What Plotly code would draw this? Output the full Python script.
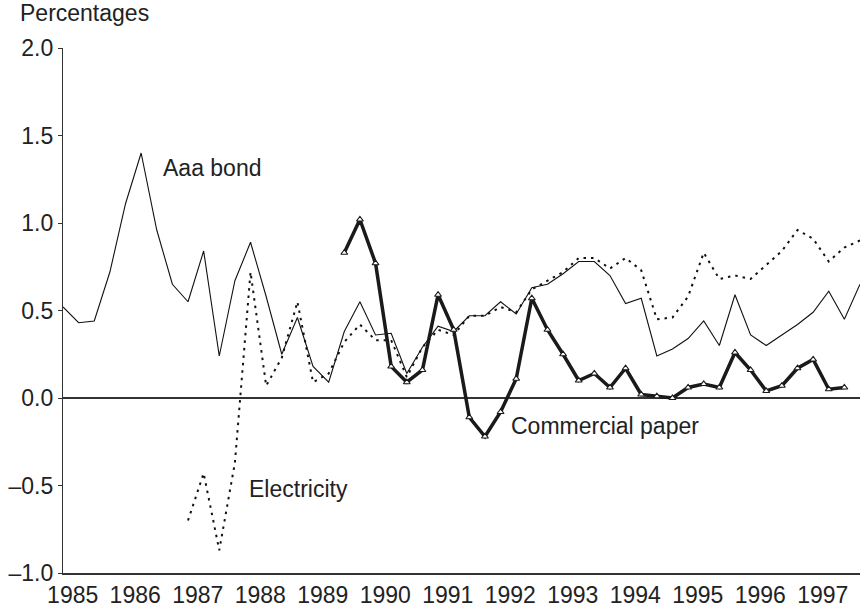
import plotly.graph_objects as go

# Quarterly series, 1985Q1 onward (index 0 = 1985Q1)
aaa_bond = [0.52, 0.43, 0.44, 0.72, 1.11, 1.40, 0.96, 0.65, 0.55, 0.84,
            0.24, 0.67, 0.89, 0.58, 0.25, 0.46, 0.18, 0.09, 0.38, 0.55,
            0.36, 0.37, 0.14, 0.29, 0.41, 0.38, 0.47, 0.47, 0.55, 0.48,
            0.63, 0.65, 0.71, 0.78, 0.78, 0.70, 0.54, 0.57, 0.24, 0.28,
            0.34, 0.44, 0.30, 0.59, 0.36, 0.30, 0.36, 0.42, 0.49, 0.61,
            0.45, 0.65]
aaa_start = 0

electricity = [-0.70, -0.43, -0.87, -0.37, 0.72, 0.07, 0.23, 0.55, 0.09, 0.14,
               0.32, 0.42, 0.33, 0.33, 0.12, 0.29, 0.39, 0.36, 0.47, 0.47,
               0.52, 0.49, 0.62, 0.67, 0.72, 0.80, 0.80, 0.74, 0.80, 0.73,
               0.45, 0.46, 0.58, 0.83, 0.68, 0.70, 0.68, 0.76, 0.84, 0.96,
               0.91, 0.78, 0.86, 0.90]
electricity_start = 8

commercial_paper = [0.83, 1.02, 0.77, 0.18, 0.09, 0.16, 0.59, 0.39, -0.11, -0.22,
                    -0.08, 0.11, 0.57, 0.39, 0.25, 0.10, 0.14, 0.06, 0.17, 0.02,
                    0.01, 0.00, 0.06, 0.08, 0.06, 0.26, 0.16, 0.04, 0.07, 0.17,
                    0.22, 0.05, 0.06]
cp_start = 18

years = list(range(1985, 1998))
y_ticks = [-1.0, -0.5, 0.0, 0.5, 1.0, 1.5, 2.0]
y_tick_text = ["\u20131.0", "\u20130.5", "0.0", "0.5", "1.0", "1.5", "2.0"]

FONT = "Liberation Sans, Arial, Helvetica, sans-serif"
INK = "#222222"


def quarters(start, values):
    return [start + i for i in range(len(values))]


fig = go.Figure()

fig.add_trace(go.Scatter(
    x=quarters(aaa_start, aaa_bond), y=aaa_bond, mode="lines",
    line=dict(color="#111111", width=1.1), cliponaxis=False,
    name="Aaa bond"))

fig.add_trace(go.Scatter(
    x=quarters(electricity_start, electricity), y=electricity, mode="lines",
    line=dict(color="#111111", width=2, dash="2.5px,5px"), cliponaxis=False,
    name="Electricity"))

fig.add_trace(go.Scatter(
    x=quarters(cp_start, commercial_paper), y=commercial_paper,
    mode="lines+markers",
    line=dict(color="#1a1a1a", width=3.5),
    marker=dict(symbol="triangle-up", size=6, color="white",
                line=dict(color="#1a1a1a", width=1.2)),
    name="Commercial paper"))

# zero reference line
fig.add_shape(type="line", xref="paper", yref="y", x0=0, x1=1, y0=0, y1=0,
              line=dict(color="#333333", width=2), layer="below")

# year labels sit slightly right of each year's first quarter
year_pos = [(y - 1985) * 4 + 0.62 for y in years]

fig.update_layout(
    width=860, height=609,
    margin=dict(l=63, r=0, t=48, b=36, pad=0),
    paper_bgcolor="white", plot_bgcolor="white",
    showlegend=False,
    font=dict(family=FONT, size=23, color=INK),
    xaxis=dict(range=[0, 51], showgrid=False, zeroline=False,
               showline=True, linecolor="#333333", linewidth=2,
               tickvals=year_pos, ticktext=[str(y) for y in years],
               ticks="", tickfont=dict(size=23, color=INK)),
    yaxis=dict(range=[-1, 2], showgrid=False, zeroline=False,
               showline=True, linecolor="#333333", linewidth=1.3,
               tickvals=y_ticks, ticktext=y_tick_text,
               ticks="outside", ticklen=4, tickwidth=1.2, tickcolor="#333333",
               tickfont=dict(size=23, color=INK)),
    annotations=[
        dict(text="Percentages", xref="paper", yref="paper",
             x=-0.0565, y=1.0667, xanchor="left", yanchor="middle",
             showarrow=False, font=dict(size=23, color=INK)),
        dict(text="Aaa bond", x=6.3, y=1.317, xanchor="left",
             yanchor="middle", showarrow=False),
        dict(text="Electricity", x=11.8, y=-0.522, xanchor="left",
             yanchor="middle", showarrow=False),
        dict(text="Commercial paper", x=28.55, y=-0.162, xanchor="left",
             yanchor="middle", showarrow=False),
    ],
)

fig.write_html("out.html")
